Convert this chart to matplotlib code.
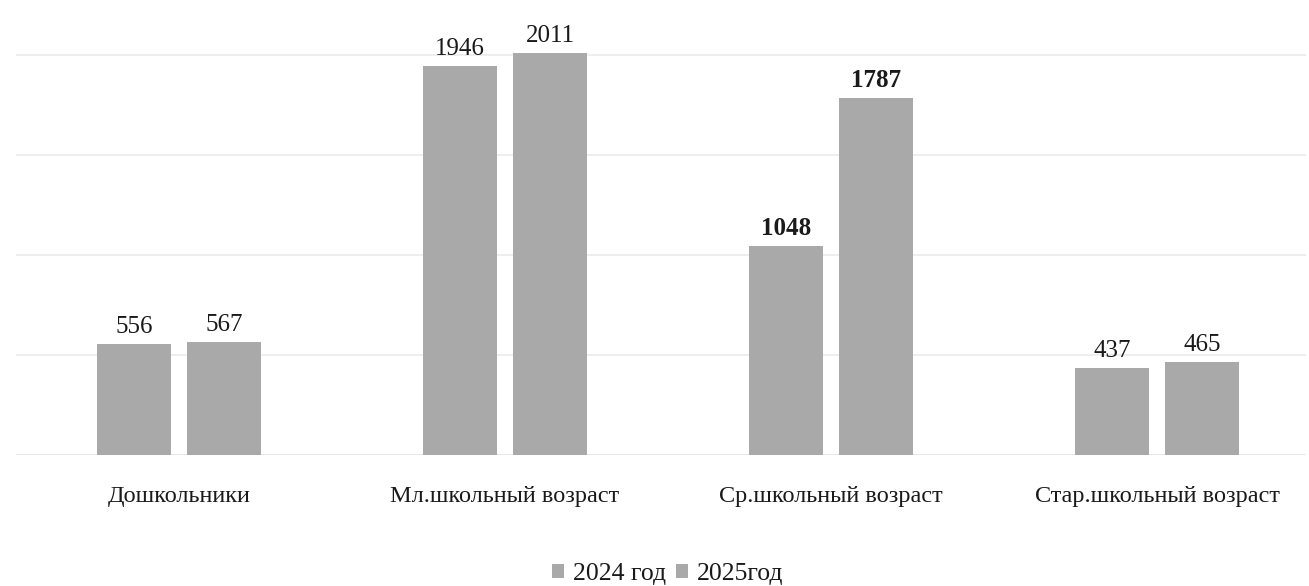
import numpy as np
import matplotlib.pyplot as plt

## Data
categories = ['Дошкольники', 'Мл.школьный возраст', 'Ср.школьный возраст',
              'Стар.школьный возраст']
series_names = ['2024 год', '2025год']
values_2024 = [556, 1946, 1048, 437]
values_2025 = [567, 2011, 1787, 465]
bold_labels = [False, False, True, False]

plt.rcParams['font.family'] = ['Liberation Serif', 'DejaVu Serif']

bar_color = '#a9a9a9'
grid_color = '#ebebeb'

fig = plt.figure(figsize=(13.09, 5.86), dpi=100)
ax = fig.add_axes([16 / 1309, 0.2235, 1290 / 1309, 0.75])

x = np.arange(len(categories))
w = 0.227
gap = 0.05
b1 = ax.bar(x - (w + gap) / 2, values_2024, w, color=bar_color,
            label=series_names[0], zorder=2)
b2 = ax.bar(x + (w + gap) / 2, values_2025, w, color=bar_color,
            label=series_names[1], zorder=2)

for bars, vals in [(b1, values_2024), (b2, values_2025)]:
    for i, (rect, v) in enumerate(zip(bars, vals)):
        ax.text(rect.get_x() + rect.get_width() / 2, v + 30, str(v),
                ha='center', va='bottom', fontsize=18, color='#1a1a1a',
                fontweight='bold' if bold_labels[i] else 'normal')

ax.set_xlim(-0.5, -0.5 + 1290 / 326)
ax.set_ylim(0, 2200)
ax.set_yticks([0, 500, 1000, 1500, 2000])
ax.yaxis.grid(True, color=grid_color, linewidth=1.2, zorder=0)
ax.set_yticklabels([])
ax.tick_params(axis='y', length=0)
ax.tick_params(axis='x', length=0, pad=22)
ax.set_xticks(x)
ax.set_xticklabels(categories, fontsize=17.5, color='#1a1a1a')
for s in ax.spines.values():
    s.set_visible(False)
ax.axhline(0, color='#d8d8d8', linewidth=1.2, zorder=1)

fig.legend(handles=[b1, b2], loc='center', bbox_to_anchor=(0.51, 0.02),
           ncol=2, frameon=False, fontsize=18.5, handlelength=0.45,
           handleheight=0.45, handletextpad=0.35, columnspacing=0.4,
           borderpad=0, labelcolor='#1a1a1a')

plt.savefig('out.png', dpi=100)
